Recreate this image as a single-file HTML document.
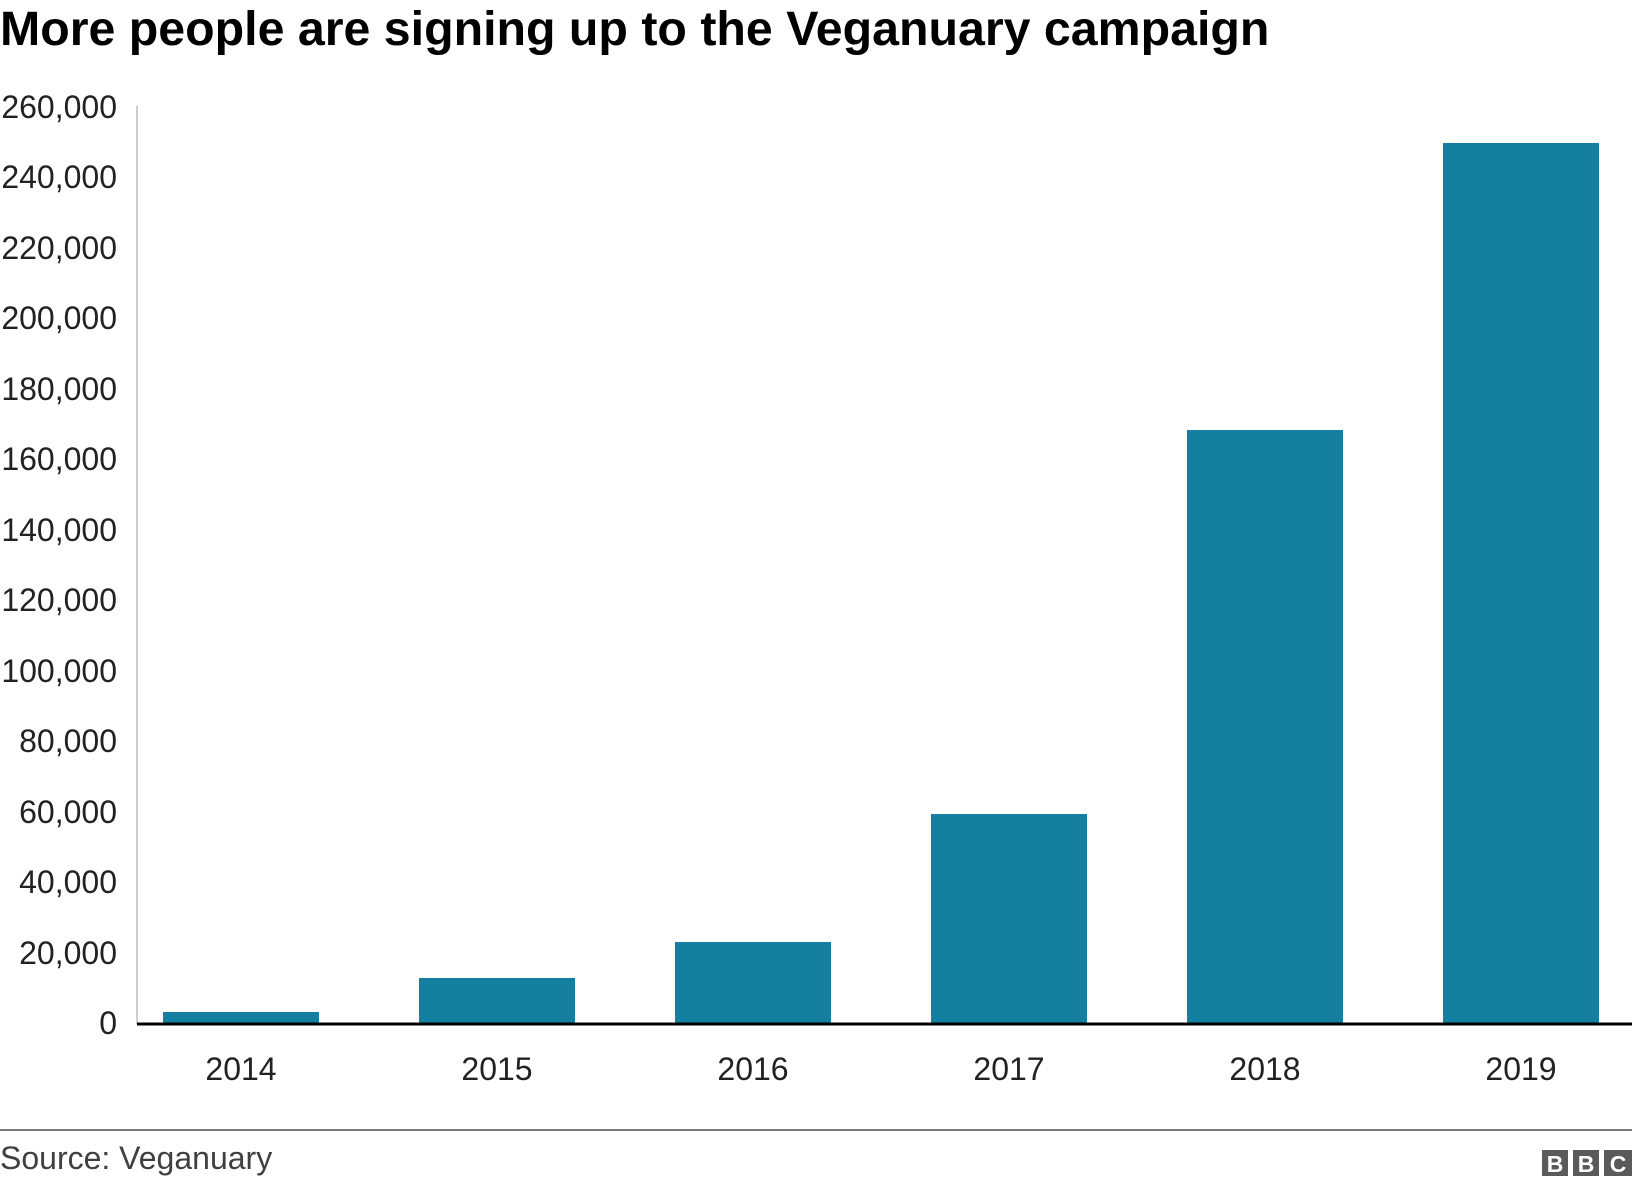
<!DOCTYPE html>
<html><head><style>
body{margin:0;width:1632px;height:1186px;background:#fff;overflow:hidden;font-family:"Liberation Sans",Arial,sans-serif}
</style></head><body>
<svg width="1632" height="1186" xmlns="http://www.w3.org/2000/svg" font-family="Liberation Sans, Arial, sans-serif">
<text x="0" y="45" font-size="48.3" font-weight="bold" fill="#000">More people are signing up to the Veganuary campaign</text>
<line x1="137" y1="106" x2="137" y2="1024" stroke="#ccc" stroke-width="2"/>
<g font-size="32" fill="#222" text-anchor="end">
<text x="117" y="118">260,000</text>
<text x="117" y="188">240,000</text>
<text x="117" y="259">220,000</text>
<text x="117" y="329">200,000</text>
<text x="117" y="400">180,000</text>
<text x="117" y="470">160,000</text>
<text x="117" y="541">140,000</text>
<text x="117" y="611">120,000</text>
<text x="117" y="682">100,000</text>
<text x="117" y="752">80,000</text>
<text x="117" y="823">60,000</text>
<text x="117" y="893">40,000</text>
<text x="117" y="964">20,000</text>
<text x="117" y="1034">0</text>
</g>
<g fill="#1380A1">
<rect x="163" y="1012" width="156" height="12"/>
<rect x="419" y="978" width="156" height="46"/>
<rect x="675" y="942" width="156" height="82"/>
<rect x="931" y="814" width="156" height="210"/>
<rect x="1187" y="430" width="156" height="594"/>
<rect x="1443" y="143" width="156" height="881"/>
</g>
<line x1="137" y1="1024" x2="1632" y2="1024" stroke="#000" stroke-width="3"/>
<g font-size="32" fill="#222" text-anchor="middle">
<text x="241" y="1080">2014</text>
<text x="497" y="1080">2015</text>
<text x="753" y="1080">2016</text>
<text x="1009" y="1080">2017</text>
<text x="1265" y="1080">2018</text>
<text x="1521" y="1080">2019</text>
</g>
<line x1="0" y1="1130" x2="1632" y2="1130" stroke="#777" stroke-width="2"/>
<text x="0" y="1169" font-size="32" fill="#404040">Source: Veganuary</text>
<g fill="#5a5a5a">
<rect x="1542" y="1150" width="26" height="26"/>
<rect x="1573" y="1150" width="26" height="26"/>
<rect x="1604" y="1150" width="28" height="26"/>
</g>
<g fill="#fff" font-size="23" font-weight="bold" text-anchor="middle">
<text x="1555" y="1172">B</text><text x="1586" y="1172">B</text><text x="1618" y="1172">C</text>
</g>
</svg>
</body></html>
